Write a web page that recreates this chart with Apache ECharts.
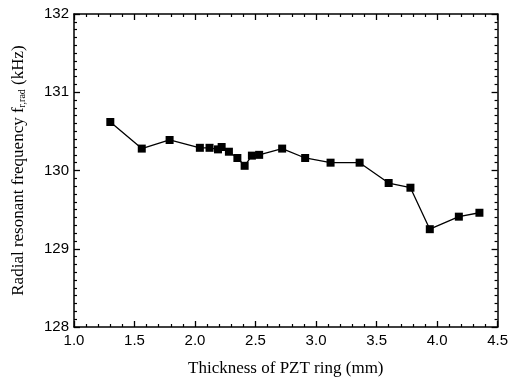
<!DOCTYPE html>
<html>
<head>
<meta charset="utf-8">
<script src="https://cdn.jsdelivr.net/npm/echarts@6/dist/echarts.min.js"></script>
<style>
  html, body { margin: 0; padding: 0; background: #fff; }
  #chart { width: 511px; height: 382px; }
</style>
</head>
<body>
<div id="chart"></div>
<script>
// thickness of PZT ring (mm)
var thickness = [1.30, 1.56, 1.79, 2.04, 2.12, 2.19, 2.22, 2.28, 2.35, 2.41, 2.47, 2.53,
    2.72, 2.91, 3.12, 3.36, 3.60, 3.78, 3.94, 4.18, 4.35];
// radial resonant frequency (kHz)
var freq = [130.62, 130.28, 130.39, 130.29, 130.29, 130.27, 130.30, 130.24, 130.16, 130.06, 130.19, 130.20,
    130.28, 130.16, 130.10, 130.10, 129.84, 129.78, 129.25, 129.41, 129.46];

var xRange = [1.0, 4.5];
var yRange = [128, 132];

var points = [];
for (var i = 0; i < thickness.length; i++) {
    points.push([thickness[i], freq[i]]);
}

var chart = echarts.init(document.getElementById('chart'));

var tickFont = {
    color: '#000',
    fontFamily: 'Liberation Sans, Arial, sans-serif',
    fontSize: 15
};
var serif = 'Liberation Serif, Times New Roman, serif';

var axisBase = {
    type: 'value',
    axisLine: { show: true, lineStyle: { color: '#000', width: 1.5 } },
    axisTick: { show: true, inside: true, length: 6, lineStyle: { color: '#000', width: 1.3 } },
    minorTick: { show: true, length: 3, lineStyle: { color: '#000', width: 1.2 } },
    splitLine: { show: false }
};

var option = {
    animation: false,
    backgroundColor: '#fff',
    grid: { left: 74, right: 12, top: 14, bottom: 54 },
    xAxis: [
        Object.assign({}, axisBase, {
            position: 'bottom',
            min: xRange[0], max: xRange[1], interval: 0.5,
            minorTick: Object.assign({}, axisBase.minorTick, { splitNumber: 5 }),
            axisLabel: Object.assign({}, tickFont, {
                margin: 6,
                formatter: function (v) { return v.toFixed(1); }
            }),
            name: 'Thickness of PZT ring (mm)',
            nameLocation: 'middle',
            nameGap: 33,
            nameTextStyle: { color: '#000', fontFamily: serif, fontSize: 17 }
        }),
        Object.assign({}, axisBase, {
            position: 'top',
            min: xRange[0], max: xRange[1], interval: 0.5,
            minorTick: Object.assign({}, axisBase.minorTick, { splitNumber: 5 }),
            axisLabel: { show: false }
        })
    ],
    yAxis: [
        Object.assign({}, axisBase, {
            position: 'left',
            min: yRange[0], max: yRange[1], interval: 1,
            minorTick: Object.assign({}, axisBase.minorTick, { splitNumber: 10 }),
            axisLabel: Object.assign({}, tickFont, { margin: 5 }),
            name: 'Radial resonant frequency f{sub|r,rad} (kHz)',
            nameLocation: 'middle',
            nameGap: 47,
            nameTextStyle: {
                color: '#000', fontFamily: serif, fontSize: 17,
                rich: {
                    sub: {
                        fontFamily: serif, fontSize: 10, color: '#000',
                        verticalAlign: 'bottom', padding: [7, 0, 0, 0]
                    }
                }
            }
        }),
        Object.assign({}, axisBase, {
            position: 'right',
            min: yRange[0], max: yRange[1], interval: 1,
            minorTick: Object.assign({}, axisBase.minorTick, { splitNumber: 10 }),
            axisLabel: { show: false }
        })
    ],
    series: [{
        type: 'line',
        xAxisIndex: 0,
        yAxisIndex: 0,
        data: points,
        symbol: 'rect',
        symbolSize: 8,
        itemStyle: { color: '#000' },
        lineStyle: { color: '#000', width: 1.3 }
    }]
};

chart.setOption(option);
</script>
</body>
</html>
